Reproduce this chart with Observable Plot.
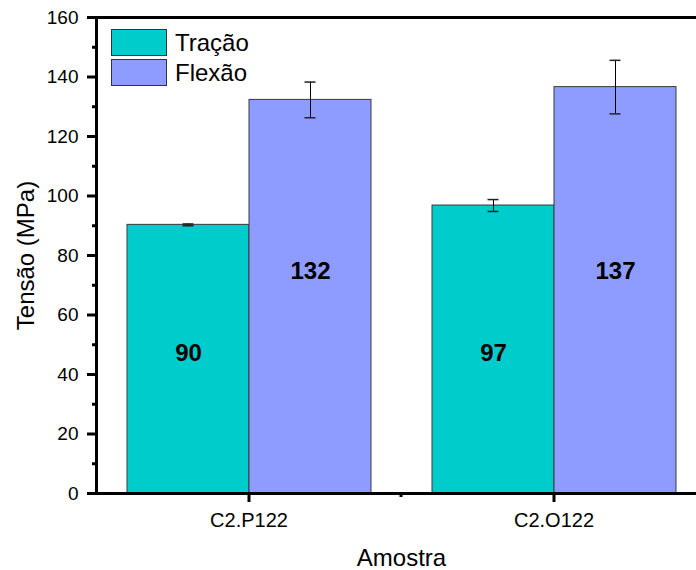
<!DOCTYPE html>
<html>
<head>
<meta charset="utf-8">
<script src="https://cdn.jsdelivr.net/npm/d3@7"></script>
<script src="https://cdn.jsdelivr.net/npm/@observablehq/plot@0.6"></script>
<style>
  html, body { margin: 0; padding: 0; overflow: hidden; background: white; width: 696px; height: 570px; }
  #wrap { position: relative; width: 696px; height: 570px; font-family: "Liberation Sans", Arial, sans-serif; }
  #legend { position: absolute; left: 111px; top: 29px; }
  .item { display: flex; align-items: center; height: 27px; margin-bottom: 3px; }
  .sw { width: 54px; height: 25px; border: 1px solid #333; }
  .lab { margin-left: 8px; font-size: 24px; color: #000; line-height: 27px; }
</style>
</head>
<body>
<div id="wrap"></div>
<script>
const groups = ["C2.P122", "C2.O122"];
const series = ["Tração", "Flexão"];
const colors = ["#00CCCC", "#8F9CFF"];
const tracao = [90.3, 96.8];
const tracaoErr = [0.3, 2.0];
const flexao = [132.3, 136.6];
const flexaoErr = [6.0, 9.0];
const labelY = [47.2, 74.6];
const yTicks = [0, 20, 40, 60, 80, 100, 120, 140, 160];
const yMinor = [10, 30, 50, 70, 90, 110, 130, 150];

const values = [tracao, flexao];
const errs = [tracaoErr, flexaoErr];
const rows = groups.flatMap((g, i) => series.map((s, j) => ({
  group: g, series: s, value: values[j][i], err: errs[j][i], ly: labelY[j]
})));

const font = "Liberation Sans, Arial, sans-serif";
const plot = Plot.plot({
  width: 706,
  height: 570,
  marginLeft: 96,
  marginRight: 0,
  marginTop: 17,
  marginBottom: 77,
  style: { fontFamily: font, maxWidth: "none", background: "white", overflow: "hidden" },
  fx: { domain: groups, padding: 0, axis: null },
  x: { domain: series, paddingInner: 0, paddingOuter: 0.25, axis: null },
  y: { domain: [0, 160], axis: null },
  color: { domain: series, range: colors },
  marks: [
    Plot.barY(rows, { fx: "group", x: "series", y: "value", fill: "series", stroke: "#3a3a3a", strokeWidth: 1 }),
    Plot.ruleX(rows, { fx: "group", x: "series", y1: d => d.value - d.err, y2: d => d.value + d.err, stroke: "#000", strokeWidth: 1 }),
    Plot.tickY(rows, { fx: "group", x: "series", y: d => d.value - d.err, insetLeft: 55.5, insetRight: 55.5, stroke: "#222", strokeWidth: 1.5 }),
    Plot.tickY(rows, { fx: "group", x: "series", y: d => d.value + d.err, insetLeft: 55.5, insetRight: 55.5, stroke: "#222", strokeWidth: 1.5 }),
    Plot.text(rows, { fx: "group", x: "series", y: "ly", text: d => String(Math.round(d.value)), fontSize: 24, fontWeight: "bold", fill: "#000" }),
    Plot.ruleY([0, 160], { stroke: "#000", strokeWidth: 3 }),
    Plot.frame({ anchor: "left", facetAnchor: "left", stroke: "#000", strokeWidth: 3 }),
    Plot.axisY({ ticks: yTicks, tickSize: 9, tickPadding: 9, strokeWidth: 3, fontSize: 19, label: null, stroke: "#000", color: "#000" }),
    Plot.axisY({ ticks: yMinor, tickSize: 4, strokeWidth: 3, tickFormat: () => "", label: null, stroke: "#000" }),
    Plot.axisY({ ticks: [], tickSize: 0, fontSize: 24, label: "Tensão (MPa)", labelArrow: "none", labelAnchor: "center", labelOffset: 80, color: "#000" }),
    Plot.axisFx({ anchor: "bottom", tickSize: 9, tickPadding: 10, strokeWidth: 3, fontSize: 20, label: null, stroke: "#000", color: "#000" }),
    Plot.axisFx({ anchor: "bottom", ticks: [], tickSize: 0, fontSize: 24, label: "Amostra", labelArrow: "none", labelAnchor: "center", labelOffset: 72, color: "#000" })
  ]
});

// minor tick on the bottom axis at the boundary between the groups
const fxs = plot.scale("fx");
const ys = plot.scale("y");
const bx = fxs.apply(groups[1]);
d3.select(plot).append("line")
  .attr("x1", bx).attr("x2", bx)
  .attr("y1", ys.apply(0)).attr("y2", ys.apply(0) + 4)
  .attr("stroke", "#000").attr("stroke-width", 3);

const wrap = document.getElementById("wrap");
wrap.appendChild(plot);
const legend = document.createElement("div");
legend.id = "legend";
series.forEach((s, i) => {
  const it = document.createElement("div");
  it.className = "item";
  const sw = document.createElement("div");
  sw.className = "sw";
  sw.style.background = colors[i];
  const lab = document.createElement("span");
  lab.className = "lab";
  lab.textContent = s;
  it.appendChild(sw); it.appendChild(lab);
  legend.appendChild(it);
});
wrap.appendChild(legend);
</script>
</body>
</html>
